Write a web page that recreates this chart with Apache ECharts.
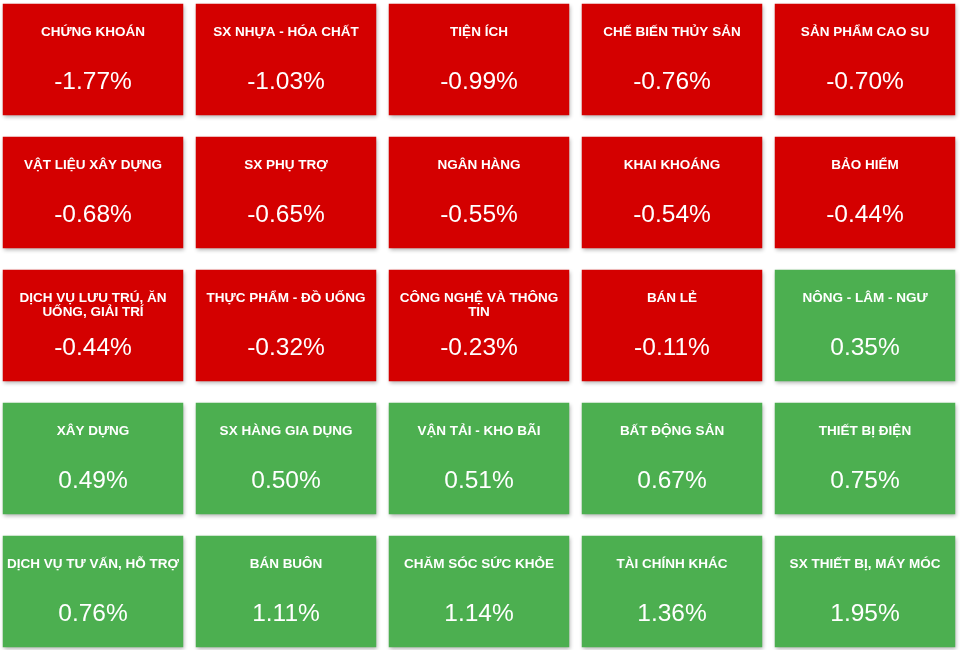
<!DOCTYPE html>
<html><head><meta charset="utf-8">
<script src="https://cdn.jsdelivr.net/npm/echarts@6/dist/echarts.min.js"></script>
<style>html,body{margin:0;padding:0;background:#fff}#c{width:960px;height:650px}</style>
</head><body><div id="c"></div>
<script>
// Sector names, with the line breaks shown in the tiles
const sectors = [
  'CHỨNG KHOÁN', 'SX NHỰA - HÓA CHẤT', 'TIỆN ÍCH', 'CHẾ BIẾN THỦY SẢN', 'SẢN PHẨM CAO SU',
  'VẬT LIỆU XÂY DỰNG', 'SX PHỤ TRỢ', 'NGÂN HÀNG', 'KHAI KHOÁNG', 'BẢO HIỂM',
  'DỊCH VỤ LƯU TRÚ, ĂN\nUỐNG, GIẢI TRÍ', 'THỰC PHẨM - ĐỒ UỐNG', 'CÔNG NGHỆ VÀ THÔNG\nTIN', 'BÁN LẺ', 'NÔNG - LÂM - NGƯ',
  'XÂY DỰNG', 'SX HÀNG GIA DỤNG', 'VẬN TẢI - KHO BÃI', 'BẤT ĐỘNG SẢN', 'THIẾT BỊ ĐIỆN',
  'DỊCH VỤ TƯ VẤN, HỖ TRỢ', 'BÁN BUÔN', 'CHĂM SÓC SỨC KHỎE', 'TÀI CHÍNH KHÁC', 'SX THIẾT BỊ, MÁY MÓC'
];
const changes = [
  -1.77, -1.03, -0.99, -0.76, -0.70,
  -0.68, -0.65, -0.55, -0.54, -0.44,
  -0.44, -0.32, -0.23, -0.11, 0.35,
  0.49, 0.50, 0.51, 0.67, 0.75,
  0.76, 1.11, 1.14, 1.36, 1.95
];
const columns = ['0', '1', '2', '3', '4'];
const rows = ['0', '1', '2', '3', '4'];

const RED = '#d40000';
const GREEN = '#4caf50';
const FONT = '"Liberation Sans", Arial, Helvetica, sans-serif';

const data = changes.map((v, i) => [i % 5, Math.floor(i / 5), v, sectors[i]]);

const chart = echarts.init(document.getElementById('c'), null, {renderer: 'canvas'});
chart.setOption({
  animation: false,
  backgroundColor: '#fff',
  grid: {left: -3.5, top: -7, width: 965, height: 665, outerBoundsMode: 'none', containLabel: false},
  xAxis: {type: 'category', data: columns, show: false},
  yAxis: {type: 'category', data: rows, inverse: true, show: false},
  series: [{
    type: 'custom',
    data: data,
    renderItem: function (params, api) {
      const c = api.coord([api.value(0), api.value(1)]);
      const w = 180.5, h = 111.5;
      const v = api.value(2);
      const name = sectors[params.dataIndex];
      return {
        type: 'group',
        children: [
          {type: 'rect', shape: {x: c[0] - w / 2, y: c[1] - h / 2, width: w, height: h},
           style: {fill: v < 0 ? RED : GREEN, shadowBlur: 4, shadowOffsetX: 1, shadowOffsetY: 2, shadowColor: 'rgba(0,0,0,0.3)'}},
          {type: 'text', x: c[0], y: c[1] - h / 2 + 22,
           style: {text: name, fill: '#fff', fontSize: 13.5, fontWeight: 'bold', fontFamily: FONT,
                   align: 'center', verticalAlign: 'top', lineHeight: 14}},
          {type: 'text', x: c[0], y: c[1] + 22.5,
           style: {text: v.toFixed(2) + '%', fill: '#fff', fontSize: 24.5, fontFamily: FONT,
                   align: 'center', verticalAlign: 'middle'}}
        ]
      };
    }
  }]
});
</script>
</body></html>
